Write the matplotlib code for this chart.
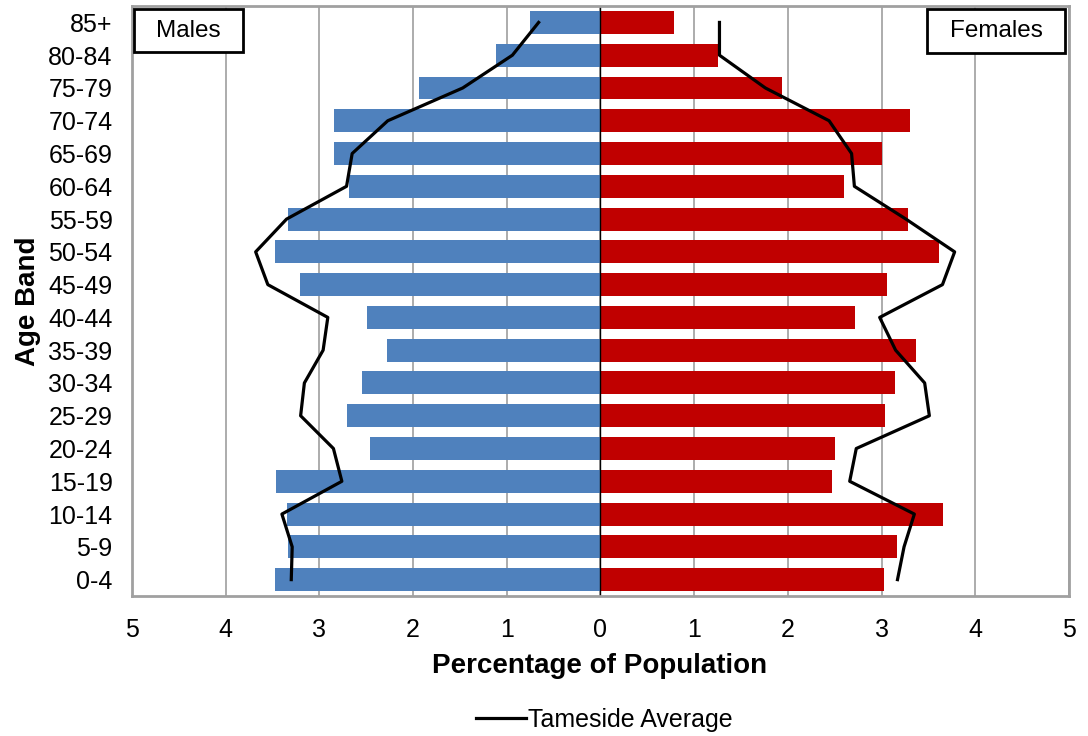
import numpy as np
import matplotlib
matplotlib.use("Agg")
import matplotlib.pyplot as plt
from matplotlib.patches import Rectangle
from matplotlib.ticker import FuncFormatter

plt.rcParams['font.family'] = ['Liberation Sans', 'DejaVu Sans']

# =====================================================
# DATA (percent of population)
# =====================================================
age_bands = ["0-4", "5-9", "10-14", "15-19", "20-24", "25-29", "30-34", "35-39",
             "40-44", "45-49", "50-54", "55-59", "60-64", "65-69", "70-74",
             "75-79", "80-84", "85+"]

males = [3.47, 3.33, 3.35, 3.46, 2.46, 2.71, 2.55, 2.28, 2.49,
         3.21, 3.47, 3.34, 2.68, 2.84, 2.84, 1.94, 1.11, 0.75]
females = [3.03, 3.16, 3.66, 2.47, 2.50, 3.04, 3.14, 3.37, 2.72,
           3.06, 3.61, 3.28, 2.60, 3.01, 3.30, 1.94, 1.25, 0.78]

males_avg = [3.30, 3.29, 3.40, 2.76, 2.85, 3.20, 3.16, 2.96, 2.91,
             3.55, 3.68, 3.35, 2.71, 2.65, 2.27, 1.47, 0.94, 0.66]
females_avg = [3.17, 3.24, 3.35, 2.66, 2.73, 3.51, 3.46, 3.15, 2.98,
               3.65, 3.78, 3.26, 2.71, 2.68, 2.44, 1.76, 1.27, 1.27]

x_ticks = [-5, -4, -3, -2, -1, 0, 1, 2, 3, 4, 5]

# =====================================================
# PLOT
# =====================================================
fig = plt.figure(figsize=(10.88, 7.36), dpi=100)
ax = fig.add_axes([0.1213, 0.1902, 0.8612, 0.8016])

y = np.arange(len(age_bands))
ax.barh(y, -np.array(males), height=0.7, color="#4F81BD", zorder=2)
ax.barh(y, females, height=0.7, color="#C00000", zorder=2)

# Tameside average outline
ax.plot(-np.array(males_avg), y, color="black", lw=2.3, zorder=3,
        label="Tameside Average")
ax.plot(females_avg, y, color="black", lw=2.3, zorder=3)

ax.axvline(0, color="black", lw=1, zorder=2.5)

ax.set_xlim(-5, 5)
ax.set_ylim(-0.5, len(age_bands) - 0.5)
ax.set_xticks(x_ticks)
ax.xaxis.set_major_formatter(FuncFormatter(lambda v, p: f"{abs(v):g}"))
ax.set_yticks(y)
ax.set_yticklabels(age_bands)
ax.tick_params(axis="both", length=0, labelsize=18)
ax.tick_params(axis="y", pad=14)
ax.tick_params(axis="x", pad=16)
ax.grid(axis="x", color="#A6A6A6", lw=1.3, zorder=0)
for s in ax.spines.values():
    s.set_color("#A0A0A0")
    s.set_linewidth(2)

# Males / Females boxes
ax.add_patch(Rectangle((0.002, 0.922), 0.1163, 0.0729, transform=ax.transAxes,
                       facecolor="white", edgecolor="black", lw=2, zorder=4))
ax.text(0.002 + 0.1163 / 2, 0.922 + 0.0729 / 2, "Males", transform=ax.transAxes,
        ha="center", va="center", fontsize=17.5, zorder=5)
ax.add_patch(Rectangle((0.8485, 0.9203), 0.1473, 0.0746, transform=ax.transAxes,
                       facecolor="white", edgecolor="black", lw=2, zorder=4))
ax.text(0.8485 + 0.1473 / 2, 0.9203 + 0.0746 / 2, "Females", transform=ax.transAxes,
        ha="center", va="center", fontsize=17.5, zorder=5)

fig.text(0.5515, 0.0955, "Percentage of Population", ha="center", va="center",
         fontsize=20, fontweight="bold")
fig.text(0.0257, 0.591, "Age Band", ha="center", va="center", rotation=90,
         fontsize=20, fontweight="bold")

fig.legend(loc="center", bbox_to_anchor=(0.5556, 0.0217), frameon=False,
           fontsize=18, handlelength=2.0, handletextpad=0.1)

fig.savefig("out.png", dpi=100)
